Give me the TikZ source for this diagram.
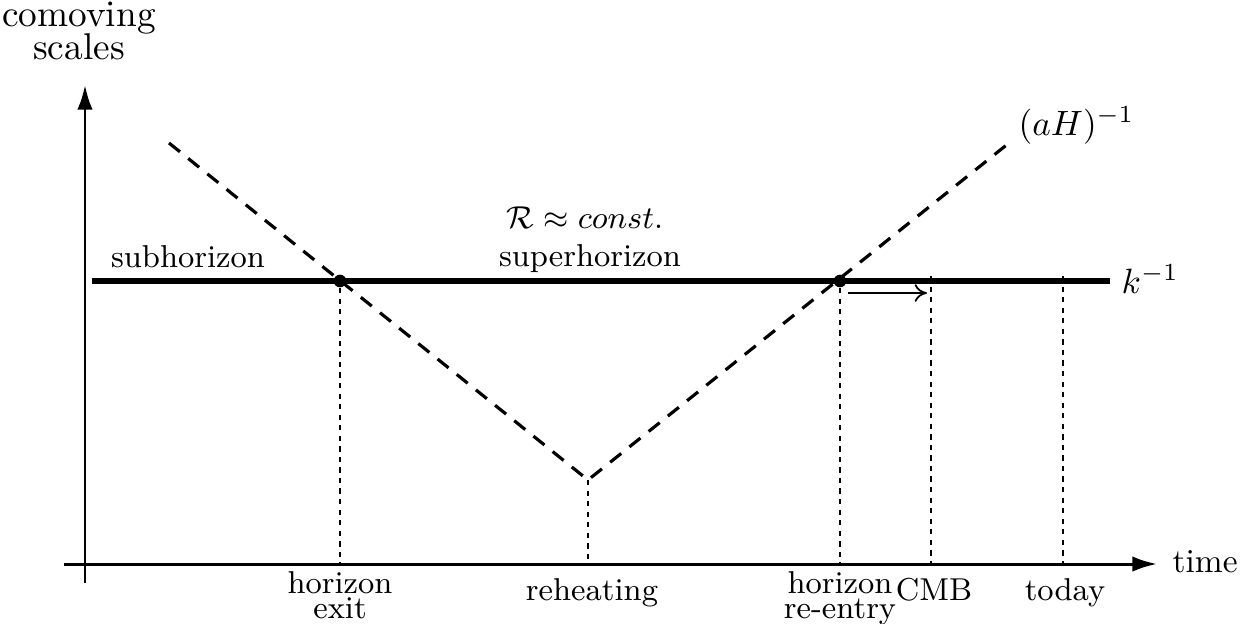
\documentclass[tikz,border=0pt]{standalone}
\usetikzlibrary{arrows.meta}
\tikzset{
  axisArrow/.style={-{Latex[length=7pt,width=4.4pt]}, line width=0.85pt},
  scaleLine/.style={line width=1.8pt},
  hubbleLine/.style={line width=0.9pt, dash pattern=on 4pt off 3pt},
  markLine/.style={line width=0.6pt, dash pattern=on 1.5pt off 1.5pt},
  crossDot/.style={circle, fill=black, inner sep=0pt, minimum size=3.6pt},
  labelText/.style={font=\fontsize{9}{7}\selectfont, align=center, inner sep=0pt},
  axisText/.style={font=\fontsize{10.6}{9.6}\selectfont, align=center, inner sep=0pt},
}

\begin{document}
\begin{tikzpicture}[x=0.01cm, y=-0.01cm]
    \useasboundingbox (0,0) rectangle (1250,623);
    % axes
    \coordinate (o) at (85,564);
    \coordinate (yBot) at (85,583);
    \coordinate (yTop) at (85,85);
    \coordinate (xLeft) at (64,564);
    \coordinate (xEnd) at (1157,564);
    \draw[axisArrow] (yBot) -- (yTop);
    \draw[axisArrow] (xLeft) -- (xEnd);
    \node[axisText, anchor=north] (scales) at (79,1) {comoving\\scales};
    \node[font=\fontsize{9.5}{11}\selectfont, inner sep=0pt, anchor=base west] (time) at (1172,572) {time};

    % comoving scale k^{-1}
    \coordinate (kL) at (92,281);
    \coordinate (kR) at (1110,281);
    \draw[scaleLine] (kL) -- (kR);
    \node[anchor=west, inner sep=0pt] (kinv) at (1121,279) {$k^{-1}$};

    % comoving Hubble radius
    \node[crossDot] (exit) at (340,281) {};
    \node[crossDot] (reentry) at (840,281) {};
    \coordinate (hStart) at (169,143);
    \coordinate (reheat) at (588,480);
    \coordinate (hEnd) at (1009,143);
    \draw[hubbleLine] (hStart) -- (reheat) -- (hEnd);
    \node[anchor=base west, inner sep=0pt, font=\fontsize{9.6}{11}\selectfont] (hubble) at (1018,135) {$(aH)^{-1}$};

    % region labels
    \node[labelText, anchor=base] (sub) at (188,267) {subhorizon};
    \node[labelText, anchor=base] (super) at (590,266) {superhorizon};
    \node[labelText, anchor=base] (curv) at (585,228) {$\mathcal{R} \approx const.$};

    % times
    \coordinate (cmbTop) at (931,276);
    \coordinate (todayTop) at (1063,276);
    \draw[markLine] (exit) -- (exit |- o);
    \draw[markLine] (reheat) -- (reheat |- o);
    \draw[markLine] (reentry) -- (reentry |- o);
    \draw[markLine] (cmbTop) -- (cmbTop |- o);
    \draw[markLine] (todayTop) -- (todayTop |- o);
    \coordinate (shiftA) at (848,293);
    \coordinate (shiftB) at (927,293);
    \draw[-{To[length=3.5pt,width=5pt]}, line width=0.5pt] (shiftA) -- (shiftB);

    \node[labelText, anchor=north] (lExit) at (340,571) {horizon\\exit};
    \node[labelText, anchor=base] (lReheat) at (592,600) {reheating};
    \node[labelText, anchor=north] (lReentry) at (840,571) {horizon\\re-entry};
    \node[labelText, anchor=base] (lCmb) at (934,600) {CMB};
    \node[labelText, anchor=base] (lToday) at (1065,600) {today};
\end{tikzpicture}
\end{document}
